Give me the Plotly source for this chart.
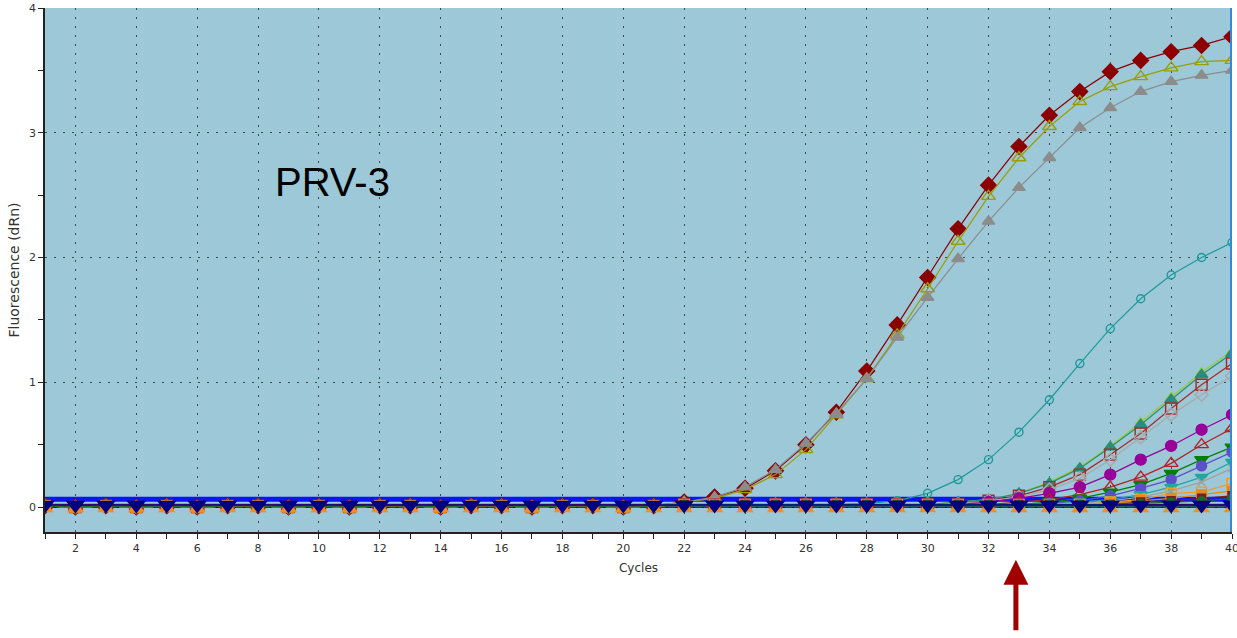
import plotly.graph_objects as go

# ---- data -------------------------------------------------------------
cycles = list(range(1, 41))

# shared pre-amplification baseline (dRn) for cycles 1..40
baseline = [0.01, 0.00, 0.01, 0.00, 0.01, 0.00, 0.01, 0.01, 0.00, 0.01,
            0.00, 0.01, 0.01, 0.00, 0.01, 0.01, 0.00, 0.01, 0.01, 0.00,
            0.01, 0.02, 0.02, 0.02, 0.02, 0.02, 0.02, 0.02, 0.02, 0.02,
            0.02, 0.02, 0.02, 0.02, 0.02, 0.02, 0.02, 0.02, 0.02, 0.02]

# amplifying wells: (colour, marker symbol, marker size, first rising cycle, values from that cycle)
wells = [
    ("#8B0000", "diamond", 12, 22,
     [0.04, 0.08, 0.15, 0.29, 0.50, 0.76, 1.09, 1.46, 1.84, 2.23, 2.58, 2.89,
      3.14, 3.33, 3.49, 3.58, 3.65, 3.70, 3.77]),
    ("#9A9E00", "triangle-up-open", 12, 22,
     [0.04, 0.07, 0.14, 0.26, 0.46, 0.74, 1.03, 1.38, 1.75, 2.13, 2.49, 2.80,
      3.05, 3.25, 3.37, 3.45, 3.52, 3.57, 3.58]),
    ("#8C8C8C", "triangle-up", 11, 22,
     [0.04, 0.08, 0.16, 0.30, 0.51, 0.75, 1.03, 1.36, 1.68, 1.99, 2.29, 2.56,
      2.80, 3.04, 3.20, 3.33, 3.41, 3.46, 3.50]),
    ("#1E9A9A", "circle-open", 8, 28,
     [0.03, 0.05, 0.11, 0.22, 0.38, 0.60, 0.86, 1.15, 1.43, 1.67, 1.86, 2.00, 2.12]),
    ("#9ACD32", "triangle-up-open", 9, 31,
     [0.04, 0.06, 0.11, 0.20, 0.32, 0.49, 0.68, 0.88, 1.08, 1.25]),
    ("#2A8C7C", "triangle-up", 11, 31,
     [0.04, 0.06, 0.11, 0.19, 0.31, 0.48, 0.66, 0.86, 1.06, 1.23]),
    ("#A52A2A", "square-open", 11, 32,
     [0.05, 0.09, 0.16, 0.26, 0.42, 0.59, 0.79, 0.98, 1.15]),
    ("#A8A8A8", "diamond-open", 10, 32,
     [0.05, 0.08, 0.14, 0.23, 0.38, 0.56, 0.74, 0.90, 1.05]),
    ("#990099", "circle", 11, 32,
     [0.04, 0.07, 0.11, 0.16, 0.26, 0.38, 0.49, 0.62, 0.74]),
    ("#B22222", "triangle-up-open", 12, 33,
     [0.04, 0.06, 0.10, 0.16, 0.24, 0.35, 0.50, 0.63]),
    ("#008000", "triangle-down", 12, 34,
     [0.04, 0.07, 0.12, 0.18, 0.27, 0.38, 0.48]),
    ("#5A50C8", "circle", 10, 34,
     [0.03, 0.05, 0.09, 0.15, 0.22, 0.33, 0.44]),
    ("#20A8A0", "triangle-down", 11, 35,
     [0.04, 0.06, 0.10, 0.16, 0.24, 0.36]),
    ("#A0A0A0", "x-thin-open", 8, 35,
     [0.03, 0.05, 0.08, 0.13, 0.20, 0.31]),
    ("#F39C1E", "square-open", 10, 36,
     [0.04, 0.06, 0.11, 0.12, 0.19, 0.24]),
    ("#E8891A", "square", 9, 36,
     [0.03, 0.05, 0.07, 0.10, 0.13, 0.20]),
    ("#7A1F1F", "square", 8, 37,
     [0.04, 0.05, 0.07, 0.09]),
    ("#1F6B2A", "circle", 8, 37,
     [0.03, 0.04, 0.05, 0.07]),
]

# flat negative-control wells
neg_navy = [0.016] * 40
neg_orange = [-0.012] * 40
neg_lines = [("#00006E", 0.00), ("#1E7A2E", 0.01), ("#A01E1E", 0.02)]

threshold = 0.062
current_cycle = 40
arrow_cycle = 32.9
title_text = "PRV-3"

# ---- figure -----------------------------------------------------------
fig = go.Figure()

for colour, level in neg_lines:
    fig.add_trace(go.Scatter(x=cycles, y=[level] * 40, mode="lines",
                             line=dict(color=colour, width=1.5),
                             hoverinfo="skip"))

# threshold line
fig.add_trace(go.Scatter(x=[cycles[0], cycles[-1]], y=[threshold, threshold],
                         mode="lines", line=dict(color="#0A14F5", width=5),
                         hoverinfo="skip"))

for colour, symbol, size, start, tail in wells:
    ys = baseline[:start - 1] + tail
    fig.add_trace(go.Scatter(
        x=cycles, y=ys, mode="lines+markers",
        line=dict(color=colour, width=1.2),
        marker=dict(symbol=symbol, size=size, color=colour,
                    line=dict(color=colour, width=1.4)),
        hoverinfo="skip"))

fig.add_trace(go.Scatter(x=cycles, y=neg_orange, mode="markers",
                         marker=dict(symbol="triangle-up", size=15, color="#F0901E"),
                         hoverinfo="skip"))
fig.add_trace(go.Scatter(x=cycles, y=neg_navy, mode="lines+markers",
                         line=dict(color="#00008B", width=1.5),
                         marker=dict(symbol="triangle-down", size=17, color="#000080"),
                         hoverinfo="skip"))

# current-cycle marker line on the right edge
fig.add_shape(type="line", xref="x", yref="paper",
              x0=current_cycle, x1=current_cycle, y0=0, y1=1,
              line=dict(color="#2B8AE8", width=4), layer="above")

fig.add_annotation(text=title_text, xref="paper", yref="paper",
                   x=0.2426, y=0.668, xanchor="center", yanchor="middle",
                   showarrow=False,
                   font=dict(family="Liberation Sans, Arial", size=40, color="black"))

fig.add_annotation(text="", xref="x", yref="paper",
                   x=arrow_cycle, y=-0.053, ax=0, ay=72,
                   showarrow=True, arrowhead=2, arrowsize=1,
                   arrowwidth=5, arrowcolor="#A00000")

grid = dict(showgrid=True, gridcolor="#3C4A50", gridwidth=1, griddash="2px,7px")
tick_font = dict(family="DejaVu Sans", size=11, color="#333333")

fig.update_layout(
    width=1237, height=638,
    margin=dict(l=45, r=5, t=8, b=106, autoexpand=False),
    paper_bgcolor="white", plot_bgcolor="#9CC8D8",
    showlegend=False,
    font=dict(family="DejaVu Sans", size=11, color="#333333"),
    xaxis=dict(range=[1, 40], tick0=0, dtick=2, ticks="outside", ticklen=5,
               tickcolor="#222222", showline=True, linecolor="#222222",
               linewidth=1.5, zeroline=False, tickfont=tick_font,
               ticklabeloverflow="allow", automargin=False,
               minor=dict(dtick=1, ticks="outside", ticklen=5,
                          tickcolor="#222222", showgrid=False),
               title=dict(text="Cycles", font=dict(size=12), standoff=10),
               **grid),
    yaxis=dict(range=[-0.2, 4], tick0=0, dtick=1, ticks="outside", ticklen=5,
               tickcolor="#222222", showline=True, linecolor="#222222",
               linewidth=1.5, zeroline=False, tickfont=tick_font,
               ticklabeloverflow="allow", automargin=False,
               minor=dict(dtick=0.5, ticks="outside", ticklen=5,
                          tickcolor="#222222", showgrid=False),
               title=dict(text="Fluorescence (dRn)", font=dict(size=14), standoff=6),
               **grid),
)

fig.write_html("out.html")
